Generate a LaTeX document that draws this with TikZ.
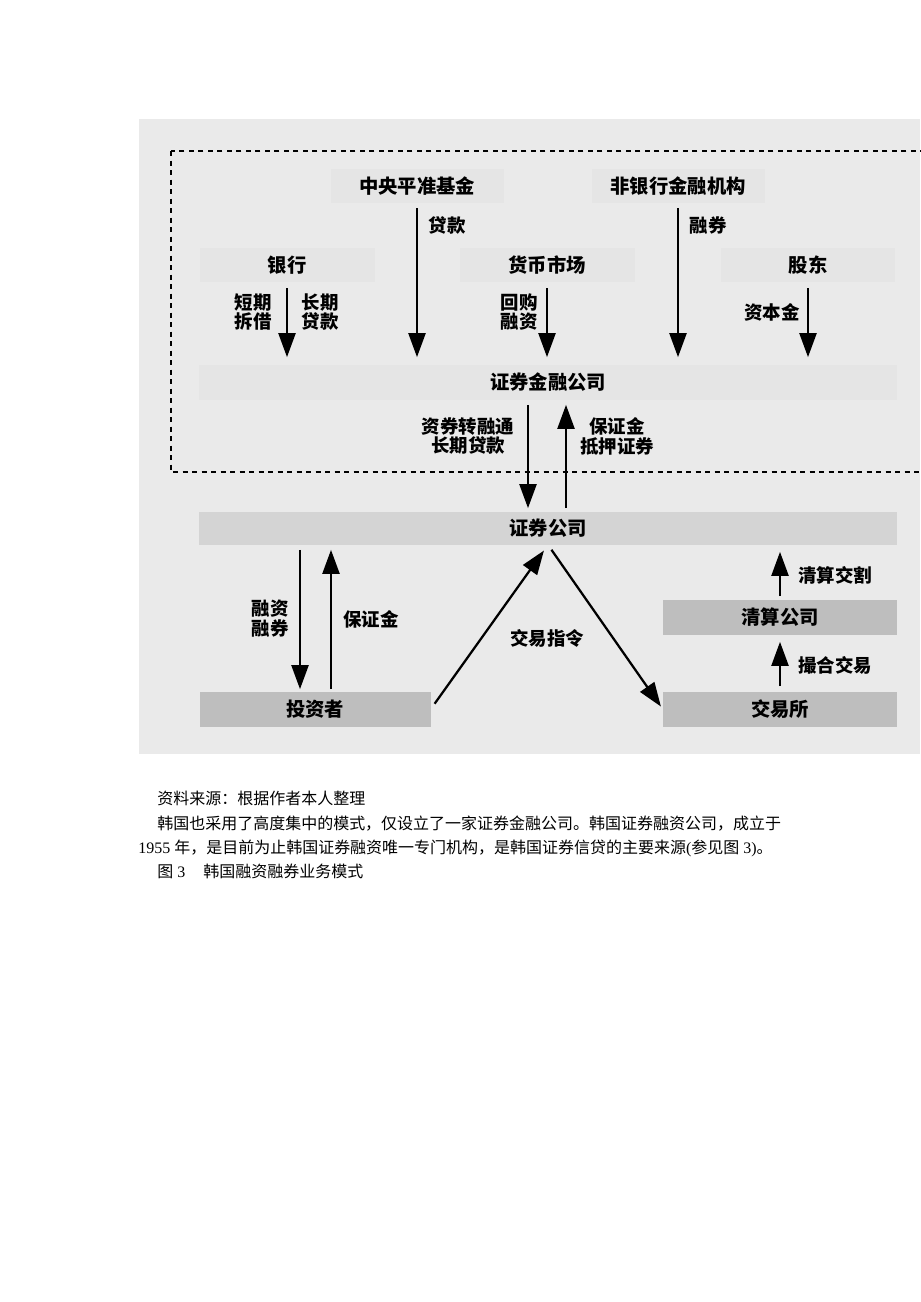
\documentclass[tikz,border=0pt]{standalone}
\usepackage{fontspec}
\newfontfamily\cjk{Noto Sans CJK SC}
\newfontfamily\lat{Liberation Serif}
\usetikzlibrary{arrows.meta}
\definecolor{paper}{HTML}{EAEAEA}
\definecolor{faintbar}{HTML}{E5E5E5}
\definecolor{midbar}{HTML}{D4D4D4}
\definecolor{darkbar}{HTML}{BEBEBE}
\tikzset{bar/.style={inner sep=0pt,minimum height=6.8mm,font=\cjk\bfseries\fontsize{11}{11}\selectfont},
         lbl/.style={align=center,inner sep=0pt,font=\cjk\bfseries\fontsize{10.5}{11.3}\selectfont},
         flow/.style={line width=0.45mm,-{Triangle[length=4.8mm,width=3.4mm]}},
         body/.style={anchor=west,inner sep=0pt,font=\cjk\fontsize{9.1}{9.1}\selectfont}}

\begin{document}
\begin{tikzpicture}[x=0.2mm,y=-0.2mm]
                  \useasboundingbox (0,0) rectangle (920,1302);
                  \fill[white] (0,0) rectangle (920,1302);
                  \fill[paper] (139,119) rectangle (920,754);
                  \draw[line width=0.4mm,dash pattern=on 1mm off 0.9mm] (171,151) rectangle (935,472);
                  \node[bar,fill=faintbar,minimum width=34.6mm] (cfund) at (417,186) {中央平准基金};
                  \node[bar,fill=faintbar,minimum width=34.6mm] (nonbank) at (678,186) {非银行金融机构};
                  \node[bar,fill=faintbar,minimum width=35mm] (bank) at (287,265) {银行};
                  \node[bar,fill=faintbar,minimum width=35mm] (money) at (547,265) {货币市场};
                  \node[bar,fill=faintbar,minimum width=34.8mm] (holder) at (808,265) {股东};
                  \node[bar,fill=faintbar,minimum width=139.4mm,minimum height=7mm] (sfc) at (548,382) {证券金融公司};
                  \node[bar,fill=midbar,minimum width=139.4mm,minimum height=6.6mm] (sc) at (548,528) {证券公司};
                  \node[bar,fill=darkbar,minimum width=46.2mm,minimum height=7mm] (inv) at (315,709) {投资者};
                  \node[bar,fill=darkbar,minimum width=46.8mm,minimum height=7mm] (clr) at (780,617) {清算公司};
                  \node[bar,fill=darkbar,minimum width=46.8mm,minimum height=7mm] (exch) at (780,709) {交易所};
                  \coordinate (down) at (528,0);
                  \coordinate (up) at (566,0);
                  \coordinate (loan) at (300,0);
                  \coordinate (margin) at (331,0);
                  \draw[flow,shorten <=1.2mm,shorten >=1.4mm] (bank.south) -- (bank.south |- sfc.north);
                  \draw[flow,shorten <=1mm,shorten >=1.4mm] (cfund.south) -- (cfund.south |- sfc.north);
                  \draw[flow,shorten <=1.2mm,shorten >=1.4mm] (money.south) -- (money.south |- sfc.north);
                  \draw[flow,shorten <=1mm,shorten >=1.4mm] (nonbank.south) -- (nonbank.south |- sfc.north);
                  \draw[flow,shorten <=1.2mm,shorten >=1.4mm] (holder.south) -- (holder.south |- sfc.north);
                  \draw[flow,shorten <=1mm,shorten >=0.6mm] (down |- sfc.south) -- (down |- sc.north);
                  \draw[flow,shorten <=0.6mm,shorten >=1mm] (up |- sc.north) -- (up |- sfc.south);
                  \draw[flow,shorten <=1mm,shorten >=0.4mm] (loan |- sc.south) -- (loan |- inv.north);
                  \draw[flow,shorten <=0.4mm,shorten >=1mm] (margin |- inv.north) -- (margin |- sc.south);
                  \draw[flow,shorten <=1.3mm,shorten >=1.4mm] (inv.east) -- (sc.south);
                  \draw[flow,shorten <=1.2mm,shorten >=0.6mm] (sc.south) -- (exch.west);
                  \draw[flow,shorten <=1mm,shorten >=1.4mm] (exch.north) -- (clr.south);
                  \draw[flow,shorten <=0.6mm,shorten >=1.4mm] (clr.north) -- (clr.north |- sc.south);
                  \node[lbl] (bankl) at (253,312) {短期\\拆借};
                  \node[lbl] (bankr) at (320,312) {长期\\贷款};
                  \node[lbl] (cfundl) at (447,225) {贷款};
                  \node[lbl] (moneyl) at (519,312) {回购\\融资};
                  \node[lbl] (nonbankl) at (708,225) {融券};
                  \node[lbl] (holderl) at (772,312) {资本金};
                  \node[lbl] (downl) at (468,436) {资券转融通\\长期贷款};
                  \node[lbl] (upl) at (617,436) {保证金\\抵押证券};
                  \node[lbl] (loanl) at (270,619) {融资\\融券};
                  \node[lbl] (marginl) at (371,619) {保证金};
                  \node[lbl] (orderl) at (547,638) {交易指令};
                  \node[lbl] (settlel) at (835,575) {清算交割};
                  \node[lbl] (matchl) at (835,665) {撮合交易};
                  \node[body] (source) at (157,798) {资料来源：根据作者本人整理};
                  \node[body] (para1) at (157,824) {韩国也采用了高度集中的模式，仅设立了一家证券金融公司。韩国证券融资公司，成立于};
                  \node[body] (para2) at (138,848) {{\lat 1955 }年，是目前为止韩国证券融资唯一专门机构，是韩国证券信贷的主要来源{\lat (}参见图{\lat\ 3)}。};
                  \node[body] (caption) at (157,871) {图{\lat\ 3}\hspace{3.6mm}韩国融资融券业务模式};
              \end{tikzpicture}
\end{document}
